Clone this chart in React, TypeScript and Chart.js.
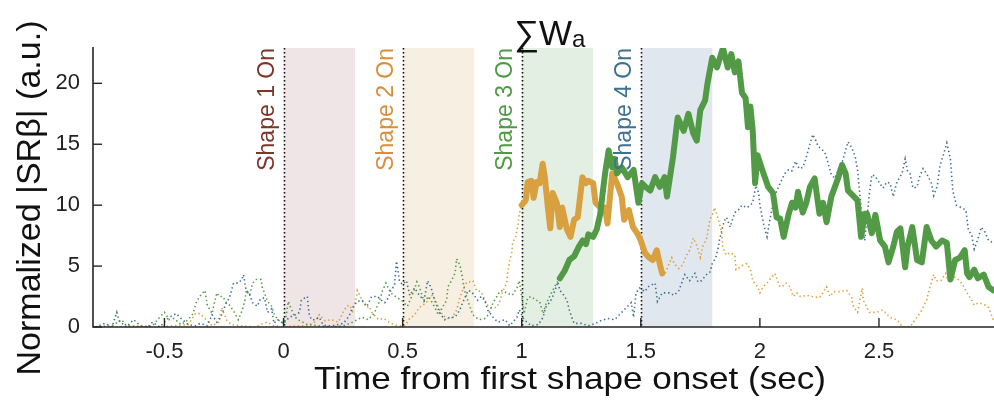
import React, { useEffect, useRef } from "react";
import { Chart, registerables } from "chart.js";

Chart.register(...registerables);

const FONT = "'Liberation Sans', Arial, Helvetica, sans-serif";

const X_MIN = -0.8;
const X_MAX = 2.983;
const Y_MIN = 0;
const Y_MAX = 22.9;

const xTicks = [-0.5, 0, 0.5, 1, 1.5, 2, 2.5];
const yTicks = [0, 5, 10, 15, 20];

const shapeOnsets = [0, 0.5, 1.0, 1.5];
const shapeEnds = [0.3, 0.8, 1.3, 1.8];
const shapeLabels = ["Shape 1 On", "Shape 2 On", "Shape 3 On", "Shape 4 On"];
const shapeLabelColors = ["#7d3528", "#d88f3c", "#4f9a45", "#3f7191"];
const shapeShadeColors = ["#efe4e6", "#f6efe2", "#e3efe2", "#e0e7ee"];

const GREEN = "#529a46";
const ORANGE = "#d9a03f";
const BLUE = "#3d6f8f";

// thick green segment
const greenT = [1.16, 1.18, 1.2, 1.22, 1.24, 1.256, 1.27, 1.28, 1.3, 1.315, 1.33, 1.34, 1.35, 1.365, 1.38, 1.39, 1.4, 1.42, 1.445, 1.47, 1.49, 1.505, 1.52, 1.54, 1.56, 1.58, 1.6, 1.61, 1.635, 1.655, 1.68, 1.7, 1.72, 1.735, 1.75, 1.77, 1.78, 1.8, 1.82, 1.845, 1.865, 1.88, 1.895, 1.91, 1.925, 1.94, 1.95, 1.96, 1.97, 1.98, 1.99, 2.01, 2.035, 2.055, 2.07, 2.085, 2.1, 2.12, 2.135, 2.15, 2.16, 2.18, 2.195, 2.21, 2.23, 2.25, 2.265, 2.28, 2.3, 2.315, 2.33, 2.345, 2.36, 2.37, 2.39, 2.41, 2.425, 2.44, 2.45, 2.47, 2.485, 2.505, 2.525, 2.54, 2.56, 2.575, 2.59, 2.61, 2.62, 2.64, 2.66, 2.68, 2.7, 2.72, 2.74, 2.765, 2.785, 2.8, 2.82, 2.84, 2.86, 2.87, 2.88, 2.9, 2.915, 2.94, 2.96, 2.98];
const greenV = [4.0, 4.6, 5.5, 5.8, 6.6, 7.1, 6.8, 7.6, 7.4, 8.0, 9.3, 11.0, 12.6, 14.5, 13.1, 13.8, 12.6, 13.1, 12.3, 12.9, 10.2, 11.8, 11.5, 11.2, 12.3, 11.5, 12.3, 10.7, 13.9, 17.2, 16.1, 17.5, 15.9, 15.3, 17.8, 18.6, 20.0, 22.1, 21.3, 22.9, 21.3, 22.4, 20.9, 21.8, 19.2, 18.8, 16.4, 18.1, 16.1, 11.8, 14.1, 12.9, 11.5, 11.0, 9.0, 8.9, 7.4, 9.2, 10.2, 9.8, 11.1, 9.4, 10.2, 11.5, 12.2, 9.3, 10.2, 8.6, 10.7, 11.5, 12.3, 13.3, 12.6, 11.2, 10.8, 10.4, 7.4, 9.3, 9.3, 7.7, 9.2, 7.1, 6.6, 5.3, 6.6, 7.8, 8.1, 4.9, 6.6, 8.2, 5.5, 5.3, 8.2, 7.1, 6.6, 7.1, 6.9, 3.9, 5.5, 5.7, 6.3, 4.4, 4.1, 4.7, 4.0, 4.3, 3.3, 3.0];

// dotted green before the thick segment
const greenDotT = [-0.79, -0.72, -0.68, -0.66, -0.6, -0.55, -0.52, -0.5, -0.48, -0.46, -0.43, -0.4, -0.38, -0.365, -0.345, -0.33, -0.32, -0.3, -0.295, -0.28, -0.27, -0.255, -0.24, -0.227, -0.206, -0.19, -0.177, -0.163, -0.156, -0.143, -0.13, -0.115, -0.094, -0.09, -0.08, -0.067, -0.05, -0.04, -0.025, 0.0, 0.01, 0.02, 0.03, 0.045, 0.06, 0.1, 0.15, 0.2, 0.25, 0.28, 0.31, 0.33, 0.355, 0.38, 0.4, 0.416, 0.43, 0.45, 0.47, 0.495, 0.52, 0.54, 0.56, 0.57, 0.59, 0.61, 0.635, 0.65, 0.67, 0.685, 0.69, 0.705, 0.72, 0.727, 0.74, 0.748, 0.76, 0.78, 0.795, 0.82, 0.845, 0.86, 0.88, 0.895, 0.907, 0.92, 0.937, 0.96, 0.98, 0.99, 1.0, 1.01, 1.025, 1.04, 1.06, 1.075, 1.09, 1.1, 1.117, 1.13, 1.147, 1.16];
const greenDotV = [0, 0.1, 0.6, 0.1, 0, 0.1, 0.8, 1.2, 0.6, 0.7, 0.2, 0.6, 1.1, 2.1, 2.7, 3.0, 1.8, 1.1, 1.6, 2.8, 2.5, 2.5, 2.0, 1.8, 1.2, 0.6, 1.2, 2.1, 3.0, 2.6, 3.6, 3.9, 3.9, 3.3, 2.8, 2.1, 1.7, 1.1, 0.6, 0.3, 0.8, 2.1, 1.6, 0.9, 0.6, 0.2, 0.1, 0, 0.1, 0.3, 0.6, 0.8, 0.6, 1.1, 2.0, 3.0, 3.6, 2.8, 2.5, 2.2, 1.7, 2.6, 3.7, 3.3, 2.1, 2.5, 1.6, 1.0, 1.7, 2.2, 3.3, 3.8, 4.4, 5.6, 5.1, 4.4, 3.0, 1.8, 1.0, 0.6, 0.7, 1.0, 2.0, 2.5, 2.9, 3.0, 2.8, 2.6, 3.2, 3.8, 2.5, 1.1, 2.4, 2.5, 2.2, 2.1, 1.1, 1.8, 2.5, 3.0, 3.6, 4.0];

// thick orange segment
const orangeT = [1.0, 1.017, 1.025, 1.04, 1.05, 1.063, 1.075, 1.088, 1.097, 1.11, 1.12, 1.13, 1.147, 1.16, 1.17, 1.19, 1.205, 1.22, 1.235, 1.255, 1.27, 1.28, 1.3, 1.31, 1.33, 1.35, 1.36, 1.38, 1.4, 1.42, 1.43, 1.45, 1.467, 1.485, 1.5, 1.517, 1.535, 1.55, 1.567, 1.583, 1.59];
const orangeV = [10.0, 10.4, 11.9, 12.0, 10.6, 11.9, 11.8, 13.4, 12.3, 9.8, 8.1, 11.0, 10.2, 8.2, 9.8, 8.0, 7.4, 8.8, 9.0, 12.3, 11.8, 12.0, 11.8, 10.2, 9.8, 9.8, 8.5, 12.6, 11.8, 10.7, 8.8, 9.6, 8.2, 7.7, 7.1, 6.1, 5.7, 5.5, 6.3, 4.9, 4.4];

// dotted orange before and after the thick segment
const orangePreT = [-0.79, -0.7, -0.62, -0.55, -0.45, -0.4, -0.37, -0.35, -0.33, -0.3, -0.27, -0.26, -0.25, -0.24, -0.22, -0.18, -0.12, -0.07, -0.04, 0.0, 0.05, 0.1, 0.13, 0.15, 0.175, 0.2, 0.23, 0.25, 0.265, 0.277, 0.29, 0.306, 0.31, 0.32, 0.335, 0.35, 0.36, 0.374, 0.385, 0.4, 0.42, 0.45, 0.48, 0.51, 0.53, 0.55, 0.57, 0.585, 0.6, 0.613, 0.626, 0.64, 0.655, 0.668, 0.685, 0.705, 0.727, 0.74, 0.752, 0.77, 0.78, 0.795, 0.81, 0.83, 0.845, 0.857, 0.873, 0.895, 0.91, 0.92, 0.937, 0.94, 0.95, 0.958, 0.962, 0.975, 0.983, 0.99, 1.0];
const orangePreV = [0, 0, 0.1, 0, 0.1, 0.2, 1.1, 1.1, 0.7, 0.1, 0.4, 1.6, 1.1, 0.6, 0.2, 0.1, 0, 0.4, 0.1, 0, 0.1, 0.1, 0.4, 1.0, 0.5, 0.6, 0.4, 1.2, 1.7, 1.8, 1.3, 2.4, 3.0, 2.6, 2.0, 1.6, 1.7, 1.1, 0.9, 0.6, 0.7, 0.3, 0.1, 0.1, 0.7, 1.0, 1.6, 1.8, 2.0, 2.5, 2.6, 2.1, 1.4, 1.0, 0.7, 0.7, 1.4, 2.4, 3.0, 3.7, 3.7, 3.8, 3.0, 2.9, 2.2, 1.8, 1.6, 1.6, 2.2, 2.9, 3.6, 4.3, 5.5, 6.1, 6.9, 7.4, 8.2, 9.3, 10.0];
const orangePostT = [1.59, 1.6, 1.615, 1.63, 1.64, 1.66, 1.676, 1.69, 1.705, 1.72, 1.735, 1.75, 1.76, 1.777, 1.79, 1.8, 1.81, 1.82, 1.83, 1.84, 1.845, 1.86, 1.875, 1.895, 1.9, 1.916, 1.93, 1.945, 1.96, 1.97, 1.99, 2.0, 2.013, 2.03, 2.05, 2.063, 2.084, 2.1, 2.11, 2.126, 2.14, 2.155, 2.17, 2.197, 2.22, 2.25, 2.265, 2.28, 2.294, 2.31, 2.336, 2.365, 2.386, 2.39, 2.41, 2.43, 2.434, 2.45, 2.46, 2.49, 2.517, 2.546, 2.575, 2.6, 2.63, 2.66, 2.68, 2.7, 2.71, 2.73, 2.74, 2.76, 2.78, 2.79, 2.81, 2.84, 2.853, 2.87, 2.89, 2.9, 2.92, 2.945, 2.96, 2.98];
const orangePostV = [4.4, 4.3, 5.0, 5.7, 5.2, 4.8, 5.1, 5.8, 6.3, 7.3, 6.7, 5.7, 6.6, 7.3, 8.8, 9.2, 9.8, 9.2, 8.5, 7.7, 6.5, 5.9, 6.1, 5.9, 4.7, 4.9, 5.1, 5.2, 4.7, 3.8, 3.3, 2.8, 3.3, 3.6, 4.1, 4.4, 3.3, 3.4, 3.6, 3.3, 2.5, 2.8, 2.5, 2.6, 2.5, 2.4, 2.8, 3.3, 2.5, 2.9, 2.9, 3.0, 2.4, 1.8, 1.2, 3.2, 2.2, 1.6, 1.2, 1.2, 1.4, 0.8, 0.6, 0, 0, 0.8, 1.4, 2.2, 3.0, 4.3, 3.8, 3.8, 4.4, 3.8, 4.2, 3.8, 3.4, 2.8, 2.2, 1.8, 2.0, 1.8, 1.6, 0.6];

// dotted blue (full range)
const blueT = [-0.79, -0.75, -0.72, -0.7, -0.69, -0.66, -0.63, -0.6, -0.57, -0.55, -0.52, -0.48, -0.45, -0.43, -0.4, -0.37, -0.35, -0.32, -0.3, -0.28, -0.26, -0.24, -0.227, -0.21, -0.19, -0.175, -0.168, -0.157, -0.145, -0.13, -0.11, -0.097, -0.08, -0.067, -0.05, -0.04, -0.025, 0.0, 0.025, 0.05, 0.067, 0.075, 0.09, 0.1, 0.107, 0.117, 0.13, 0.15, 0.165, 0.18, 0.2, 0.23, 0.25, 0.265, 0.277, 0.29, 0.31, 0.33, 0.35, 0.37, 0.395, 0.41, 0.425, 0.44, 0.45, 0.466, 0.474, 0.48, 0.487, 0.5, 0.516, 0.53, 0.55, 0.57, 0.59, 0.605, 0.62, 0.634, 0.655, 0.676, 0.7, 0.72, 0.74, 0.75, 0.775, 0.79, 0.8, 0.815, 0.83, 0.845, 0.857, 0.88, 0.9, 0.93, 0.95, 0.98, 0.99, 1.01, 1.04, 1.07, 1.09, 1.1, 1.12, 1.13, 1.145, 1.152, 1.16, 1.17, 1.19, 1.2, 1.21, 1.22, 1.25, 1.28, 1.31, 1.33, 1.36, 1.39, 1.42, 1.44, 1.46, 1.47, 1.48, 1.495, 1.517, 1.53, 1.56, 1.57, 1.59, 1.62, 1.64, 1.66, 1.685, 1.705, 1.727, 1.74, 1.755, 1.776, 1.79, 1.8, 1.815, 1.825, 1.83, 1.84, 1.85, 1.86, 1.875, 1.895, 1.91, 1.925, 1.945, 1.96, 1.97, 1.983, 1.995, 2.0, 2.01, 2.02, 2.03, 2.04, 2.05, 2.063, 2.076, 2.09, 2.105, 2.12, 2.134, 2.15, 2.165, 2.18, 2.19, 2.2, 2.21, 2.222, 2.235, 2.245, 2.26, 2.273, 2.28, 2.29, 2.3, 2.315, 2.33, 2.345, 2.357, 2.37, 2.386, 2.4, 2.41, 2.42, 2.43, 2.44, 2.45, 2.46, 2.47, 2.483, 2.496, 2.517, 2.533, 2.546, 2.56, 2.575, 2.597, 2.61, 2.62, 2.63, 2.643, 2.66, 2.67, 2.685, 2.7, 2.72, 2.73, 2.745, 2.756, 2.77, 2.785, 2.8, 2.81, 2.825, 2.845, 2.865, 2.875, 2.89, 2.9, 2.915, 2.93, 2.945, 2.96, 2.98];
const blueV = [0, 0.3, 0, 1.2, 0.5, 0, 0.6, 0.1, 0, 0.4, 0, 0.8, 1.1, 0.7, 0.2, 0.1, 0.3, 0.1, 1.0, 0.4, 1.0, 2.0, 2.4, 3.6, 3.6, 3.9, 4.3, 3.0, 2.8, 2.0, 1.7, 2.3, 2.4, 1.2, 1.5, 0.3, 0.6, 0.3, 0.8, 1.0, 1.2, 2.2, 2.4, 2.5, 1.1, 0.6, 0.6, 0.8, 0.2, 0.1, 0.1, 0.2, 0.3, 0.6, 1.0, 1.6, 2.1, 2.2, 1.7, 2.5, 2.5, 2.2, 2.0, 2.4, 3.0, 3.4, 5.4, 4.7, 3.7, 3.5, 3.8, 2.6, 3.2, 2.6, 2.2, 3.8, 3.2, 2.2, 1.2, 0.6, 0.8, 0.8, 1.4, 1.9, 3.0, 2.9, 2.6, 2.2, 2.5, 2.2, 1.4, 0.8, 0.4, 0.6, 0.1, 0.8, 1.4, 0.6, 0.1, 0.2, 0.8, 1.6, 2.1, 2.5, 3.3, 3.7, 3.0, 2.8, 2.2, 1.4, 0.8, 0.3, 0.3, 0.1, 0.3, 0.5, 0.7, 0.6, 1.2, 1.6, 2.0, 0.8, 2.8, 3.2, 2.9, 3.3, 3.6, 2.1, 2.8, 2.8, 2.6, 3.0, 4.3, 3.8, 4.4, 3.7, 3.8, 4.3, 4.5, 5.2, 5.7, 6.5, 7.1, 7.9, 8.7, 9.0, 8.2, 9.4, 9.6, 10.0, 9.8, 10.0, 10.2, 11.6, 11.0, 10.0, 9.0, 8.1, 7.4, 8.6, 9.6, 10.8, 11.4, 12.0, 12.6, 12.9, 12.8, 13.6, 13.0, 13.1, 13.6, 14.3, 15.0, 15.8, 15.3, 14.8, 14.6, 14.3, 13.9, 13.2, 12.5, 12.2, 13.0, 13.5, 14.3, 15.2, 14.7, 14.0, 12.9, 10.8, 8.8, 7.1, 9.0, 11.0, 12.5, 12.4, 12.0, 11.4, 11.9, 11.8, 10.7, 11.9, 12.6, 13.8, 12.8, 12.6, 11.4, 11.5, 12.3, 13.0, 12.6, 11.8, 10.8, 11.6, 13.2, 14.1, 15.1, 13.8, 11.2, 10.0, 9.8, 9.6, 8.0, 7.5, 6.4, 7.2, 8.2, 7.8, 7.1, 6.9];

const pts = (t: number[], v: number[]) => t.map((tt, i) => ({ x: tt, y: v[i] }));

const overlayPlugin = {
  id: "overlay",
  beforeDatasetsDraw(chart: any) {
    const { ctx, chartArea: ca, scales } = chart;
    const x = scales.x;
    ctx.save();
    shapeOnsets.forEach((s, i) => {
      const x0 = x.getPixelForValue(s);
      const x1 = x.getPixelForValue(shapeEnds[i]);
      ctx.fillStyle = shapeShadeColors[i];
      ctx.fillRect(x0, ca.top, x1 - x0, ca.bottom - ca.top);
    });
    ctx.strokeStyle = "#111";
    ctx.lineWidth = 1.6;
    ctx.setLineDash([1.6, 2.4]);
    shapeOnsets.forEach((s) => {
      const px = Math.round(x.getPixelForValue(s)) + 0.5;
      ctx.beginPath();
      ctx.moveTo(px, ca.top);
      ctx.lineTo(px, ca.bottom);
      ctx.stroke();
    });
    ctx.restore();
  },
  afterDatasetsDraw(chart: any) {
    const { ctx, chartArea: ca, scales } = chart;
    const x = scales.x;
    const y = scales.y;
    ctx.save();
    ctx.font = `23px ${FONT}`;
    ctx.textAlign = "right";
    ctx.textBaseline = "alphabetic";
    shapeOnsets.forEach((s, i) => {
      const px = x.getPixelForValue(s);
      ctx.save();
      ctx.translate(px - 10, ca.top);
      ctx.rotate(-Math.PI / 2);
      ctx.fillStyle = shapeLabelColors[i];
      ctx.fillText(shapeLabels[i], 0, 0);
      ctx.restore();
    });
    ctx.strokeStyle = "#262626";
    ctx.lineWidth = 1.6;
    ctx.beginPath();
    ctx.moveTo(ca.left, ca.top - 1);
    ctx.lineTo(ca.left, ca.bottom);
    ctx.lineTo(ca.right, ca.bottom);
    ctx.stroke();
    ctx.lineWidth = 1.4;
    xTicks.forEach((v) => {
      const px = x.getPixelForValue(v);
      ctx.beginPath();
      ctx.moveTo(px, ca.bottom);
      ctx.lineTo(px, ca.bottom - 9);
      ctx.stroke();
    });
    yTicks.forEach((v) => {
      const py = y.getPixelForValue(v);
      ctx.beginPath();
      ctx.moveTo(ca.left, py);
      ctx.lineTo(ca.left + 9, py);
      ctx.stroke();
    });
    ctx.restore();
  },
  afterDraw(chart: any) {
    const { ctx } = chart;
    ctx.save();
    ctx.fillStyle = "#111";
    ctx.save();
    ctx.font = `33px ${FONT}`;
    const yTitle = "Normalized |SRβ| (a.u.)";
    const yw = ctx.measureText(yTitle).width;
    ctx.translate(31, 198);
    ctx.rotate(-Math.PI / 2);
    ctx.scale(355 / yw, 1);
    ctx.textAlign = "center";
    ctx.textBaseline = "middle";
    ctx.fillText(yTitle, 0, 0);
    ctx.restore();
    ctx.save();
    ctx.font = `32px ${FONT}`;
    const xTitle = "Time from first shape onset (sec)";
    const xw = ctx.measureText(xTitle).width;
    ctx.translate(570, 380);
    ctx.scale(512 / xw, 1);
    ctx.textAlign = "center";
    ctx.textBaseline = "middle";
    ctx.fillText(xTitle, 0, 0);
    ctx.restore();
    ctx.font = `35px ${FONT}`;
    ctx.textAlign = "left";
    ctx.textBaseline = "alphabetic";
    ctx.fillText("∑W", 514, 45);
    const w = ctx.measureText("∑W").width;
    ctx.font = `24px ${FONT}`;
    ctx.fillText("a", 514 + w, 47);
    ctx.restore();
  },
};

export default function App() {
  const ref = useRef<HTMLCanvasElement | null>(null);
  useEffect(() => {
    document.body.style.margin = "0";
    const canvas = ref.current;
    if (!canvas) return;
    const base = {
      pointRadius: 0,
      pointHoverRadius: 0,
      tension: 0,
      fill: false,
    };
    const dotted = {
      ...base,
      borderWidth: 1.6,
      borderDash: [1.4, 2.8],
    };
    const thick = {
      ...base,
      borderWidth: 6,
      borderCapStyle: "round",
      borderJoinStyle: "round",
    };
    const chart = new Chart(canvas, {
      type: "line",
      data: {
        datasets: [
          { ...thick, label: "green", data: pts(greenT, greenV), borderColor: GREEN, order: 0 },
          { ...thick, label: "orange", data: pts(orangeT, orangeV), borderColor: ORANGE, order: 1 },
          { ...dotted, label: "blue dotted", data: pts(blueT, blueV), borderColor: BLUE, order: 2 },
          { ...dotted, label: "green dotted", data: pts(greenDotT, greenDotV), borderColor: GREEN, order: 3 },
          { ...dotted, label: "orange dotted pre", data: pts(orangePreT, orangePreV), borderColor: ORANGE, order: 4 },
          { ...dotted, label: "orange dotted post", data: pts(orangePostT, orangePostV), borderColor: ORANGE, order: 5 },
        ] as any,
      },
      options: {
        animation: false,
        responsive: false,
        devicePixelRatio: 1,
        layout: { padding: { top: 48, left: 0, right: 0, bottom: 0 } },
        plugins: { legend: { display: false }, tooltip: { enabled: false }, title: { display: false } },
        scales: {
          x: {
            type: "linear",
            min: X_MIN,
            max: X_MAX,
            grid: { display: false, drawTicks: false },
            border: { display: false },
            ticks: {
              font: { family: FONT, size: 22 },
              color: "#222",
              padding: 12,
              maxRotation: 0,
              autoSkip: false,
              callback: (v: any) => String(Math.round(Number(v) * 10) / 10),
            },
            afterBuildTicks: (s: any) => {
              s.ticks = xTicks.map((value) => ({ value }));
            },
            afterFit: (s: any) => {
              s.height = 79;
            },
          },
          y: {
            type: "linear",
            min: Y_MIN,
            max: Y_MAX,
            grid: { display: false, drawTicks: false },
            border: { display: false },
            ticks: {
              font: { family: FONT, size: 22 },
              color: "#222",
              padding: 13,
              callback: (v: any) => String(v),
            },
            afterBuildTicks: (s: any) => {
              s.ticks = yTicks.map((value) => ({ value }));
            },
            afterFit: (s: any) => {
              s.width = 93;
            },
          },
        },
      } as any,
      plugins: [overlayPlugin],
    });
    return () => chart.destroy();
  }, []);
  return <canvas ref={ref} width={994} height={406} style={{ display: "block" }} />;
}
